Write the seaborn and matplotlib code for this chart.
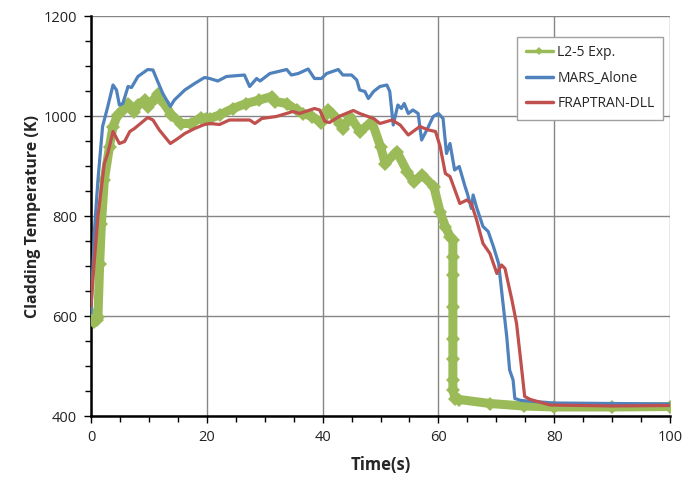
import matplotlib
matplotlib.use("Agg")
import matplotlib.pyplot as plt
import seaborn as sns
import pandas as pd
from matplotlib.ticker import MultipleLocator
from matplotlib.lines import Line2D

# ---------------- data ----------------
t_mars = [0, 0.6, 1.2, 2.0, 2.9, 3.8, 4.4, 4.9, 5.5, 6.4, 7.0, 8.1, 9.8, 10.7, 11.3, 12.4,
          13.7, 14.4, 16.2, 17.9, 19.6, 20.5, 21.9, 23.4, 26.5, 27.4, 28.6, 29.2, 30.9,
          33.8, 34.6, 35.8, 37.5, 38.6, 39.8, 40.7, 42.7, 43.5, 45.0, 45.9, 46.4, 47.3,
          47.9, 48.8, 49.9, 51.1, 51.6, 52.2, 53.0, 53.6, 54.1, 54.8, 55.6, 56.5, 57.1,
          58.0, 59.1, 60.0, 60.8, 61.4, 62.0, 62.8, 63.6, 64.6, 65.0, 65.7, 66.0, 66.6,
          67.7, 68.6, 69.5, 70.4, 70.9, 71.8, 72.3, 72.9, 73.2, 74.3, 80, 90, 100]
T_mars = [606, 772, 872, 979, 1019, 1062, 1052, 1022, 1025, 1059, 1057, 1079, 1093, 1092,
          1075, 1045, 1019, 1032, 1052, 1065, 1077, 1075, 1070, 1079, 1082, 1059, 1075,
          1070, 1085, 1093, 1082, 1085, 1094, 1075, 1075, 1085, 1093, 1082, 1082, 1072,
          1052, 1049, 1035, 1049, 1059, 1062, 1049, 982, 1022, 1015, 1025, 1005, 1012,
          1005, 952, 972, 999, 1005, 995, 925, 945, 892, 899, 859, 845, 815, 842, 817,
          779, 769, 739, 705, 652, 559, 492, 472, 435, 431, 426, 425, 424]

t_frap = [0, 0.5, 1.2, 2.3, 2.9, 3.8, 4.9, 5.8, 6.7, 7.5, 9.8, 10.7, 11.8, 13.7, 15.0,
          16.2, 17.9, 19.6, 20.5, 22.2, 23.9, 27.4, 28.3, 29.5, 32.0, 34.9, 36.0, 38.6,
          39.5, 40.4, 41.2, 43.0, 45.3, 46.4, 48.8, 49.9, 52.0, 53.4, 54.8, 56.8, 58.3,
          59.5, 60.3, 61.2, 62.0, 63.7, 64.9, 65.7, 66.6, 67.7, 68.9, 70.1, 70.9, 71.5,
          72.7, 73.5, 74.4, 74.9, 75.9, 79.3, 90, 100]
T_frap = [620, 700, 799, 905, 925, 969, 945, 949, 969, 975, 997, 992, 972, 945, 955, 965,
          975, 983, 985, 983, 992, 992, 985, 995, 999, 1009, 1005, 1015, 1012, 989, 987,
          1000, 1011, 1005, 995, 985, 992, 982, 962, 979, 972, 969, 939, 885, 879, 825,
          832, 825, 792, 745, 725, 685, 702, 695, 632, 585, 492, 439, 433, 422, 420, 421]

t_exp = [0, 0.3, 0.6, 1.0, 1.2, 1.5, 1.8, 2.3, 3.2, 3.8, 4.6, 5.5, 6.4, 7.5, 8.1, 9.3, 9.8,
         11.0, 11.5, 12.4, 13.9, 15.6, 17.3, 19.0, 19.9, 20.5, 22.2, 24.5, 26.8, 29.1,
         31.2, 31.8, 33.8, 35.5, 36.7, 38.2, 39.8, 41.0, 41.8, 43.0, 43.6, 44.7, 46.5,
         48.5, 50.0, 50.8, 52.8, 54.6, 55.7, 57.2, 59.2, 60.3, 61.2, 62.0, 62.5, 62.5,
         62.5, 62.5, 62.5, 62.5, 62.5, 62.5, 62.9, 63.6, 68.9, 74.7, 80, 90, 100]
T_exp = [606, 598, 589, 592, 599, 705, 785, 872, 939, 979, 1002, 1012, 1025, 1009, 1022,
         1032, 1019, 1035, 1044, 1029, 1002, 985, 985, 997, 995, 995, 1002, 1015, 1025,
         1032, 1039, 1029, 1025, 1012, 1005, 999, 987, 1012, 1002, 985, 975, 999, 969,
         989, 939, 905, 929, 889, 868, 882, 859, 808, 779, 759, 752, 719, 682, 619, 555,
         515, 472, 452, 435, 433, 425, 420, 418, 418, 419]

labels = ["L2-5 Exp.", "MARS_Alone", "FRAPTRAN-DLL"]
colors = ["#9BBB59", "#4F81BD", "#C0504D"]

# ---------------- plot ----------------
sns.set_style("white")
plt.rcParams["font.family"] = ["Open Sans", "DejaVu Sans"]

fig = plt.figure(figsize=(6.98, 4.90), dpi=100)
ax = fig.add_axes([91 / 698, 1 - 416 / 490, 579 / 698, 400 / 490])

df_exp = pd.DataFrame({"t": t_exp, "T": T_exp})
df_mars = pd.DataFrame({"t": t_mars, "T": T_mars})
df_frap = pd.DataFrame({"t": t_frap, "T": T_frap})

sns.lineplot(data=df_exp, x="t", y="T", ax=ax, sort=False, estimator=None,
             color=colors[0], lw=6.5, marker="D", markersize=7, markeredgewidth=0,
             zorder=3)
sns.lineplot(data=df_mars, x="t", y="T", ax=ax, sort=False, estimator=None,
             color=colors[1], lw=2.3, zorder=4)
sns.lineplot(data=df_frap, x="t", y="T", ax=ax, sort=False, estimator=None,
             color=colors[2], lw=2.3, zorder=5)

ax.set_xlim(0, 100)
ax.set_ylim(400, 1200)
ax.xaxis.set_major_locator(MultipleLocator(20))
ax.xaxis.set_minor_locator(MultipleLocator(5))
ax.yaxis.set_major_locator(MultipleLocator(200))
ax.yaxis.set_minor_locator(MultipleLocator(50))

ax.grid(True, which="major", color="#868686", lw=1)
ax.set_axisbelow(True)
for s in ["top", "right"]:
    ax.spines[s].set_visible(False)
for s in ["left", "bottom"]:
    ax.spines[s].set_color("black")
    ax.spines[s].set_linewidth(1.8)

ax.tick_params(axis="both", which="major", direction="out", length=5, width=1,
               color="black", labelsize=10.5, labelcolor="#222222", pad=5,
               left=True, bottom=True)
ax.tick_params(axis="both", which="minor", direction="out", length=4, width=1,
               color="black", left=True, bottom=True)

ax.set_xlabel("Time(s)", fontsize=12, fontweight="bold", labelpad=8)
ax.set_ylabel("Cladding Temperature (K)", fontsize=11.5, fontweight="bold", labelpad=2)

handles = [
    Line2D([], [], color=colors[0], lw=2.5, marker="D", markersize=4, markeredgewidth=0),
    Line2D([], [], color=colors[1], lw=2.5),
    Line2D([], [], color=colors[2], lw=2.5),
]
leg = ax.legend(handles, labels, loc="upper right", bbox_to_anchor=(0.988, 0.9475),
                fontsize=10, frameon=True, fancybox=False, framealpha=1,
                edgecolor="#A0A0A0", labelspacing=0.75, handlelength=2.0,
                handletextpad=0.3, borderpad=0.6, borderaxespad=0)
leg.get_frame().set_linewidth(1)

fig.savefig("out.png", dpi=100)
